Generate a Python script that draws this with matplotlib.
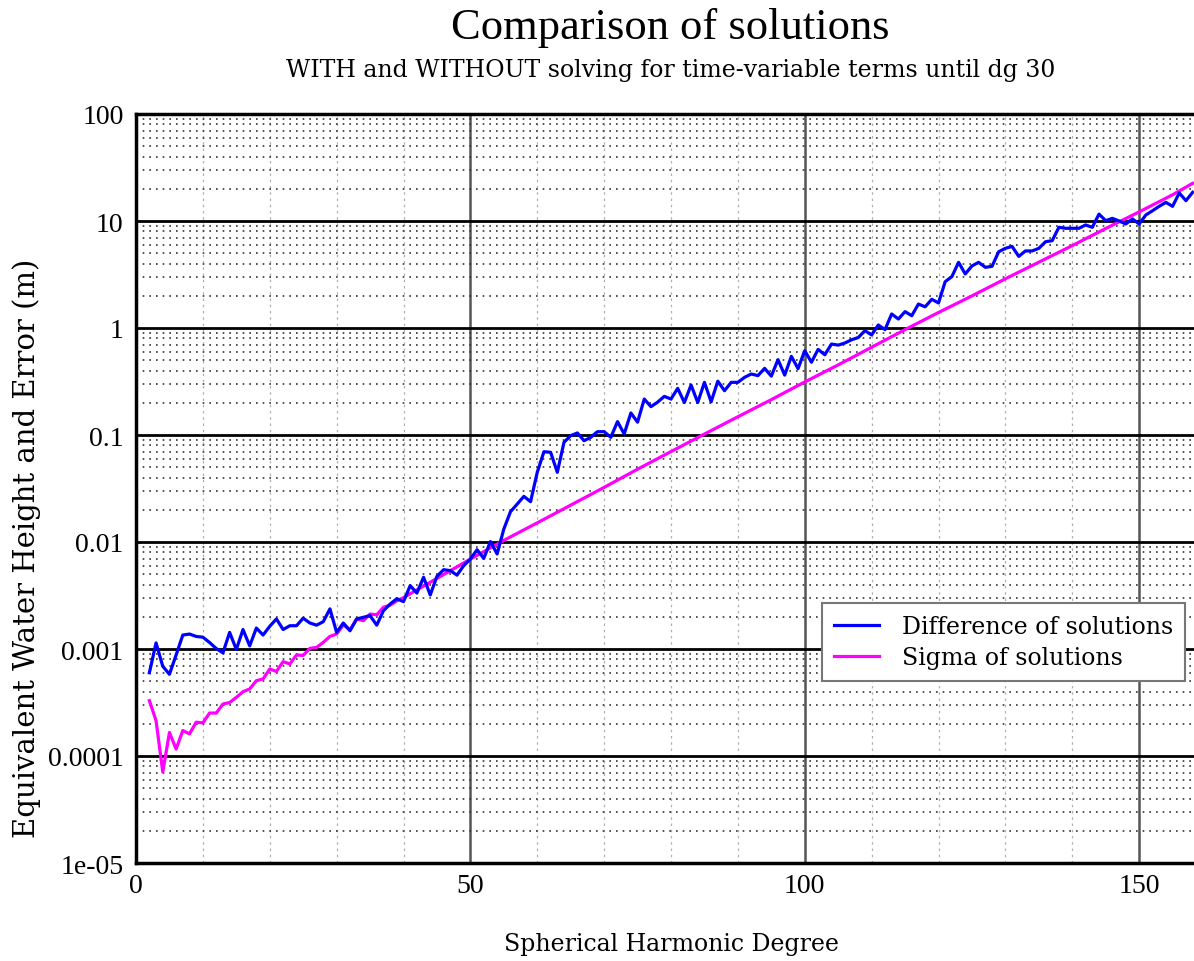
import numpy as np
import matplotlib
matplotlib.use("Agg")
import matplotlib.pyplot as plt
from matplotlib.ticker import FixedLocator, FixedFormatter, MultipleLocator, LogLocator, NullFormatter

# Difference of solutions, degrees 2..158
diff_deg = list(range(2, 159))
diff_val = [
    0.00060, 0.00114, 0.00069, 0.00058, 0.00088, 0.00135, 0.00138, 0.00131, 0.00129, 0.00115,   # 2-11
    0.00101, 0.00092, 0.00143, 0.00099, 0.00152, 0.00107, 0.00157, 0.00135, 0.00163, 0.00191,   # 12-21
    0.00152, 0.00165, 0.00165, 0.00194, 0.00175, 0.00167, 0.00180, 0.00237, 0.00143, 0.00175,   # 22-31
    0.00148, 0.00191, 0.00198, 0.00205, 0.00167, 0.00228, 0.00263, 0.00295, 0.00277, 0.00391,   # 32-41
    0.00333, 0.00468, 0.00320, 0.00478, 0.00551, 0.00540, 0.00490, 0.00601, 0.00693, 0.00847,   # 42-51
    0.00703, 0.0101, 0.00773, 0.0132, 0.0192, 0.0226, 0.0267, 0.0238, 0.0448, 0.0698,          # 52-61
    0.0689, 0.0448, 0.0855, 0.0986, 0.1045, 0.0885, 0.0951, 0.1074, 0.1074, 0.0951,            # 62-71
    0.1334, 0.1023, 0.1607, 0.1318, 0.2168, 0.1841, 0.2028, 0.2296, 0.2168, 0.2729,            # 72-81
    0.2014, 0.2931, 0.2014, 0.3105, 0.2042, 0.3184, 0.2594, 0.3105, 0.3105, 0.3459,            # 82-91
    0.3715, 0.3589, 0.4198, 0.3548, 0.5058, 0.3631, 0.5433, 0.4169, 0.6138, 0.4786,            # 92-101
    0.631, 0.5623, 0.708, 0.692, 0.724, 0.776, 0.815, 0.944, 0.861, 1.067,                     # 102-111
    0.966, 1.352, 1.213, 1.422, 1.303, 1.675, 1.578, 1.854, 1.714, 2.71,                       # 112-121
    3.02, 4.11, 3.20, 3.80, 4.11, 3.69, 3.77, 5.16, 5.55, 5.79,                                # 122-131
    4.67, 5.25, 5.25, 5.55, 6.40, 6.55, 8.73, 8.55, 8.55, 8.55,                                # 132-141
    9.18, 8.73, 11.6, 10.07, 10.59, 10.0, 9.38, 10.45, 9.38, 11.38,                            # 142-151
    12.47, 13.71, 14.93, 13.71, 18.28, 15.49, 18.53,                                           # 152-158
]

# Sigma of solutions
sigma_deg = list(range(2, 41)) + [45, 50, 55, 60, 65, 70, 75, 80, 85, 90, 95, 100,
                                  105, 110, 115, 120, 125, 130, 135, 140, 145, 150, 155, 158]
sigma_val = [
    3.29e-4, 2.14e-4, 7.1e-5, 1.66e-4, 1.16e-4, 1.73e-4, 1.61e-4, 2.07e-4, 2.04e-4, 2.52e-4,   # 2-11
    2.52e-4, 3.06e-4, 3.16e-4, 3.53e-4, 3.99e-4, 4.23e-4, 5.06e-4, 5.25e-4, 6.50e-4, 6.17e-4,   # 12-21
    7.62e-4, 7.24e-4, 8.79e-4, 8.71e-4, 1.014e-3, 1.035e-3, 1.153e-3, 1.312e-3, 1.380e-3,       # 22-30
    1.675e-3, 1.517e-3, 1.905e-3, 1.841e-3, 2.123e-3, 2.089e-3, 2.455e-3, 2.57e-3, 2.82e-3,     # 31-39
    3.02e-3, 4.57e-3, 6.92e-3, 1.035e-2, 1.51e-2, 2.21e-2, 3.24e-2, 4.79e-2, 7.00e-2, 0.102,    # 40-85
    0.148, 0.214, 0.313, 0.452, 0.661, 0.966, 1.396, 1.995, 2.884, 4.12, 5.89, 8.51, 12.16,     # 90-150
    17.58, 22.5,                                                                                # 155-158
]

y_ticks = [1e-5, 1e-4, 1e-3, 1e-2, 1e-1, 1, 10, 100]
y_labels = ["1e-05", "0.0001", "0.001", "0.01", "0.1", "1", "10", "100"]
x_ticks = [0, 50, 100, 150]

plt.rcParams['font.family'] = ['Liberation Serif', 'DejaVu Serif']
wide = ['DejaVu Serif']

W, H = 1194, 962
fig = plt.figure(figsize=(W / 100, H / 100), dpi=100)
ax = fig.add_axes([136 / W, (H - 864) / H, 1070 / W, 749 / H])

ax.plot(diff_deg, diff_val, color='#0000ff', lw=2.3, label='Difference of solutions', zorder=5)
ax.plot(sigma_deg, sigma_val, color='#ff00ff', lw=2.3, label='Sigma of solutions', zorder=4)

ax.set_yscale('log')
ax.set_xlim(0, 160)
ax.set_ylim(1e-5, 100)

ax.yaxis.set_major_locator(FixedLocator(y_ticks))
ax.yaxis.set_major_formatter(FixedFormatter(y_labels))
ax.yaxis.set_minor_locator(LogLocator(base=10, subs=np.arange(2, 10)))
ax.yaxis.set_minor_formatter(NullFormatter())
ax.xaxis.set_major_locator(FixedLocator(x_ticks))
ax.xaxis.set_minor_locator(MultipleLocator(10))

ax.grid(which='major', axis='y', color='black', lw=2.0, ls='-', zorder=1)
ax.grid(which='minor', axis='y', color='#333333', lw=1.2, ls=(0, (1, 3)), zorder=1)
ax.grid(which='major', axis='x', color='#555555', lw=1.8, ls='-', zorder=1)
ax.grid(which='minor', axis='x', color='#b0b0b0', lw=0.9, ls=(0, (2, 3)), zorder=1)
ax.set_axisbelow(True)

ax.tick_params(which='both', length=0, labelsize=20)
ax.tick_params(axis='x', pad=7)
ax.tick_params(axis='y', pad=9)
for s in ['left', 'bottom', 'top']:
    ax.spines[s].set_linewidth(2.5)
ax.spines['right'].set_visible(False)

fig.text(672 / W, 1 - 945 / H, 'Spherical Harmonic Degree', fontsize=17, family=wide,
         ha='center', va='center')
fig.text(27 / W, 1 - 548 / H, 'Equivalent Water Height and Error (m)', fontsize=21,
         family=wide, rotation=90, ha='center', va='center')

fig.text(670 / W, 1 - 28 / H, 'Comparison of solutions', fontsize=32, ha='center', va='center')
fig.text(671 / W, 1 - 71 / H, 'WITH and WITHOUT solving for time-variable terms until dg 30',
         fontsize=17, family=wide, ha='center', va='center')

leg = ax.legend(loc='upper left', bbox_to_anchor=((822 - 136) / 1070, (864 - 604) / 749),
                prop={'family': wide, 'size': 17}, frameon=True, fancybox=False, framealpha=1,
                edgecolor='#777777', handlelength=1.9, borderpad=0.5, labelspacing=0.35,
                handletextpad=1.0, borderaxespad=0)
leg.get_frame().set_linewidth(1.5)

fig.savefig('out.png', dpi=100)
